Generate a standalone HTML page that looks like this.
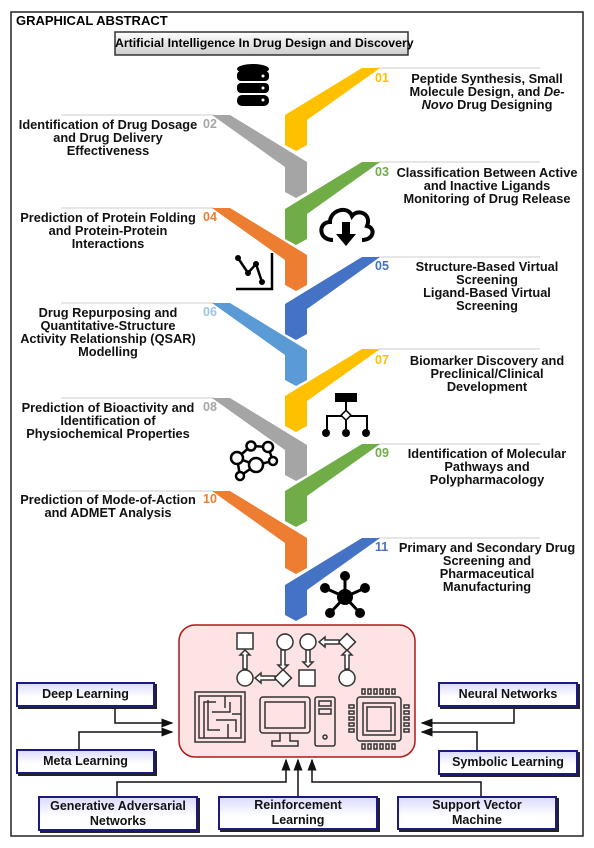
<!DOCTYPE html>
<html><head><meta charset="utf-8"><style>
body{margin:0;width:594px;height:848px;background:#fff;position:relative;font-family:"Liberation Sans",Arial,sans-serif;overflow:hidden}
.t{position:absolute;font-weight:bold;font-size:12.8px;line-height:13px;text-align:center;color:#111;white-space:nowrap}
.n{position:absolute;font-weight:bold;font-size:12.5px;line-height:13px}
.b{position:absolute;box-sizing:border-box;border:2px solid #1a1a80;background:linear-gradient(#dcdcff,#fff 60%);box-shadow:2px 2px 0 #222;font-weight:bold;font-size:12.5px;line-height:15px;text-align:center;display:flex;align-items:center;justify-content:center;color:#111;white-space:nowrap}
</style></head><body>
<svg width="594" height="848" style="position:absolute;left:0;top:0">
<rect x="11" y="12" width="572" height="824" fill="none" stroke="#222" stroke-width="1.5"/>
<defs><linearGradient id="g" x1="0" y1="0" x2="0" y2="1"><stop offset="0" stop-color="#fff"/><stop offset="1" stop-color="#ccc"/></linearGradient>
<marker id="a" markerWidth="8" markerHeight="8" refX="7" refY="4" orient="auto"><path d="M0,1 L8,4 L0,7Z" fill="#111"/></marker></defs>
<rect x="115" y="32" width="293" height="23" fill="url(#g)" stroke="#333" stroke-width="1.5"/>
<g stroke="#ccc" stroke-width="1">
<line x1="378" y1="68" x2="540" y2="68"/><line x1="378" y1="162" x2="540" y2="162"/><line x1="378" y1="257" x2="540" y2="257"/><line x1="378" y1="349" x2="540" y2="349"/><line x1="378" y1="444" x2="540" y2="444"/><line x1="378" y1="538" x2="540" y2="538"/>
<line x1="61" y1="115" x2="214" y2="115"/><line x1="61" y1="208" x2="214" y2="208"/><line x1="61" y1="303" x2="214" y2="303"/><line x1="61" y1="398" x2="214" y2="398"/><line x1="61" y1="491" x2="214" y2="491"/>
</g>
<g>
<polygon fill="#FFC000" points="362,68 380,68 307,120 307,145 296,151 285,145 285,115"/>
<polygon fill="#A5A5A5" points="230,115 212,115 285,167 285,192 296,198 307,192 307,162"/>
<polygon fill="#70AD47" points="362,162 380,162 307,214 307,239 296,245 285,239 285,209"/>
<polygon fill="#ED7D31" points="230,208 212,208 285,260 285,285 296,291 307,285 307,255"/>
<polygon fill="#4472C4" points="362,257 380,257 307,309 307,334 296,340 285,334 285,304"/>
<polygon fill="#5B9BD5" points="230,303 212,303 285,355 285,380 296,386 307,380 307,350"/>
<polygon fill="#FFC000" points="362,349 380,349 307,401 307,426 296,432 285,426 285,396"/>
<polygon fill="#A5A5A5" points="230,398 212,398 285,450 285,475 296,481 307,475 307,445"/>
<polygon fill="#70AD47" points="362,444 380,444 307,496 307,521 296,527 285,521 285,491"/>
<polygon fill="#ED7D31" points="230,491 212,491 285,543 285,568 296,574 307,568 307,538"/>
<polygon fill="#4472C4" points="362,538 380,538 307,590 307,615 296,621 285,615 285,585"/>
</g>
<g fill="#000"><ellipse cx="253" cy="69" rx="16" ry="5"/><rect x="237" y="71" width="32" height="10" rx="4"/><rect x="237" y="83" width="32" height="10" rx="4"/><rect x="237" y="95" width="32" height="11" rx="5"/></g>
<g fill="#fff"><circle cx="263" cy="76" r="1.5"/><circle cx="263" cy="88" r="1.5"/><circle cx="263" cy="100" r="1.5"/></g>
<path d="M333,240 C318,240 318,222 330,222 C330,210 348,205 352,216 C358,208 372,214 367,226 C376,228 374,240 362,240" fill="none" stroke="#000" stroke-width="4"/>
<path d="M342,222 h8 v12 h6 l-10,12 l-10,-12 h6z" fill="#000"/>
<path d="M236,289 H272 V253" fill="none" stroke="#000" stroke-width="2.5"/>
<polyline points="238,258 248,273 256,264 262,282" fill="none" stroke="#000" stroke-width="2.5"/>
<g fill="#000"><circle cx="238" cy="258" r="3"/><circle cx="248" cy="273" r="3"/><circle cx="256" cy="264" r="3"/><circle cx="262" cy="282" r="3"/></g>
<rect x="335" y="393" width="22" height="9" fill="#000"/>
<path d="M346,402 V420 M327,431 V416 H367 V431 M346,416 V431" stroke="#000" stroke-width="2" fill="none"/>
<rect x="342" y="412" width="7" height="7" transform="rotate(45 346 416)" fill="#fff" stroke="#000" stroke-width="1.5"/>
<g fill="#000"><circle cx="326" cy="433" r="4"/><circle cx="346" cy="433" r="4"/><circle cx="366" cy="433" r="4"/></g>
<g stroke="#000" stroke-width="2.5" fill="#fff"><path d="M237,458 L251,446 L268,447 L273,461 L256,465 L240,476 Z M256,465 L237,458" fill="none"/>
<circle cx="237" cy="458" r="6"/><circle cx="251" cy="446" r="4.5"/><circle cx="268" cy="447" r="5"/><circle cx="273" cy="461" r="4"/><circle cx="256" cy="465" r="7"/><circle cx="240" cy="476" r="4"/></g>
<g stroke="#000" stroke-width="3"><line x1="345" y1="597" x2="345" y2="576"/><line x1="345" y1="597" x2="325" y2="588"/><line x1="345" y1="597" x2="365" y2="588"/><line x1="345" y1="597" x2="330" y2="613"/><line x1="345" y1="597" x2="360" y2="613"/></g>
<g fill="#000"><circle cx="345" cy="576" r="5"/><circle cx="325" cy="588" r="5"/><circle cx="365" cy="588" r="5"/><circle cx="330" cy="613" r="5"/><circle cx="360" cy="613" r="5"/><circle cx="345" cy="597" r="8"/></g>
<rect x="179" y="625" width="236" height="132" rx="16" fill="#fde3e3" stroke="#b01818" stroke-width="1.5"/>
<g fill="#fff" stroke="#333" stroke-width="1.5">
<rect x="237" y="633" width="16" height="16"/><circle cx="285" cy="642" r="8"/><circle cx="308" cy="642" r="8"/><rect x="341" y="636" width="12" height="12" transform="rotate(45 347 642)"/>
<circle cx="245" cy="678" r="8"/><rect x="277" y="672" width="12" height="12" transform="rotate(45 283 678)"/><rect x="299" y="670" width="16" height="16"/><circle cx="347" cy="678" r="8"/>
<path d="M243,669 V655 h-3 l5,-5 l5,5 h-3 v14z"/><path d="M281,650 V665 h-3 l5,5 l5,-5 h-3 v-15z"/><path d="M306,650 V662 h-3 l5,5 l5,-5 h-3 v-12z"/><path d="M345,669 V655 h-3 l5,-5 l5,5 h-3 v14z"/>
<path d="M275,676 H261 v-3 l-6,5 l6,5 v-3 h14z"/><path d="M339,640 H325 v-3 l-6,5 l6,5 v-3 h14z"/>
</g>
<g fill="none" stroke="#333" stroke-width="1.5">
<rect x="195" y="692" width="50" height="50"/><rect x="199" y="696" width="42" height="42"/><path d="M204,738 V702 H216 M208,700 V730 H220 M212,712 H230 V702 M225,696 V708 M216,720 H236 V732 M228,724 V738 M232,714 H241"/>
<rect x="260" y="697" width="50" height="36" rx="3"/><rect x="265" y="702" width="40" height="26"/><path d="M280,733 V741 H272 V746 H298 V741 H290 V733"/>
<rect x="315" y="697" width="20" height="49" rx="2"/><rect x="319" y="701" width="12" height="5"/><rect x="319" y="709" width="12" height="5"/><circle cx="325" cy="737" r="2"/>
<rect x="357" y="697" width="44" height="44" rx="3"/><rect x="363" y="703" width="32" height="32"/><rect x="367" y="707" width="24" height="24"/>
<path d="M362,689 h3v5h-3z M368,689 h3v5h-3z M374,689 h3v5h-3z M380,689 h3v5h-3z M386,689 h3v5h-3z M392,689 h3v5h-3z M362,744 h3v5h-3z M368,744 h3v5h-3z M374,744 h3v5h-3z M380,744 h3v5h-3z M386,744 h3v5h-3z M392,744 h3v5h-3z M349,705 h5v3h-5z M349,711 h5v3h-5z M349,717 h5v3h-5z M349,723 h5v3h-5z M349,729 h5v3h-5z M404,705 h5v3h-5z M404,711 h5v3h-5z M404,717 h5v3h-5z M404,723 h5v3h-5z M404,729 h5v3h-5z"/>
</g>
<g stroke="#111" stroke-width="1.5" fill="none" marker-end="url(#a)">
<path d="M115,707 V723 H172"/><path d="M79,749 V732 H172"/><path d="M514,707 V723 H422"/><path d="M477,750 V732 H422"/>
<path d="M117,796 V782 H286 V760"/><path d="M298,796 V760"/><path d="M481,796 V782 H312 V760"/>
</g>
</svg>
<div style="position:absolute;left:16px;top:13px;font-weight:bold;font-size:13px">GRAPHICAL ABSTRACT</div>
<div style="position:absolute;left:115px;top:36px;width:293px;text-align:center;font-weight:bold;font-size:12.3px;white-space:nowrap">Artificial Intelligence In Drug Design and Discovery</div>

<div class="n" style="left:375px;top:72px;color:#FFC000">01</div>
<div class="n" style="left:203px;top:118px;color:#A5A5A5">02</div>
<div class="n" style="left:375px;top:166px;color:#70AD47">03</div>
<div class="n" style="left:203px;top:211px;color:#ED7D31">04</div>
<div class="n" style="left:375px;top:260px;color:#4472C4">05</div>
<div class="n" style="left:203px;top:306px;color:#9DC3E6">06</div>
<div class="n" style="left:375px;top:354px;color:#FFC000">07</div>
<div class="n" style="left:203px;top:401px;color:#A5A5A5">08</div>
<div class="n" style="left:375px;top:447px;color:#70AD47">09</div>
<div class="n" style="left:203px;top:493px;color:#ED7D31">10</div>
<div class="n" style="left:375px;top:541px;color:#4472C4">11</div>

<div class="t" style="left:387px;width:200px;top:72px">Peptide Synthesis, Small<br>Molecule Design, and <i>De-</i><br><i>Novo</i> Drug Designing</div>
<div class="t" style="left:8px;width:200px;top:118px">Identification of Drug Dosage<br>and Drug Delivery<br>Effectiveness</div>
<div class="t" style="left:387px;width:200px;top:166px">Classification Between Active<br>and Inactive Ligands<br>Monitoring of Drug Release</div>
<div class="t" style="left:8px;width:200px;top:211px">Prediction of Protein Folding<br>and Protein-Protein<br>Interactions</div>
<div class="t" style="left:387px;width:200px;top:260px">Structure-Based Virtual<br>Screening<br>Ligand-Based Virtual<br>Screening</div>
<div class="t" style="left:8px;width:200px;top:306px">Drug Repurposing and<br>Quantitative-Structure<br>Activity Relationship (QSAR)<br>Modelling</div>
<div class="t" style="left:387px;width:200px;top:354px">Biomarker Discovery and<br>Preclinical/Clinical<br>Development</div>
<div class="t" style="left:8px;width:200px;top:401px">Prediction of Bioactivity and<br>Identification of<br>Physiochemical Properties</div>
<div class="t" style="left:387px;width:200px;top:447px">Identification of Molecular<br>Pathways and<br>Polypharmacology</div>
<div class="t" style="left:8px;width:200px;top:493px">Prediction of Mode-of-Action<br>and ADMET Analysis</div>
<div class="t" style="left:387px;width:200px;top:541px">Primary and Secondary Drug<br>Screening and<br>Pharmaceutical<br>Manufacturing</div>

<div class="b" style="left:16px;top:682px;width:139px;height:25px">Deep Learning</div>
<div class="b" style="left:16px;top:749px;width:139px;height:25px">Meta Learning</div>
<div class="b" style="left:438px;top:682px;width:140px;height:25px">Neural Networks</div>
<div class="b" style="left:438px;top:750px;width:140px;height:25px">Symbolic Learning</div>
<div class="b" style="left:38px;top:796px;width:160px;height:35px">Generative Adversarial<br>Networks</div>
<div class="b" style="left:218px;top:796px;width:160px;height:34px">Reinforcement<br>Learning</div>
<div class="b" style="left:397px;top:796px;width:160px;height:34px">Support Vector<br>Machine</div>
</body></html>
